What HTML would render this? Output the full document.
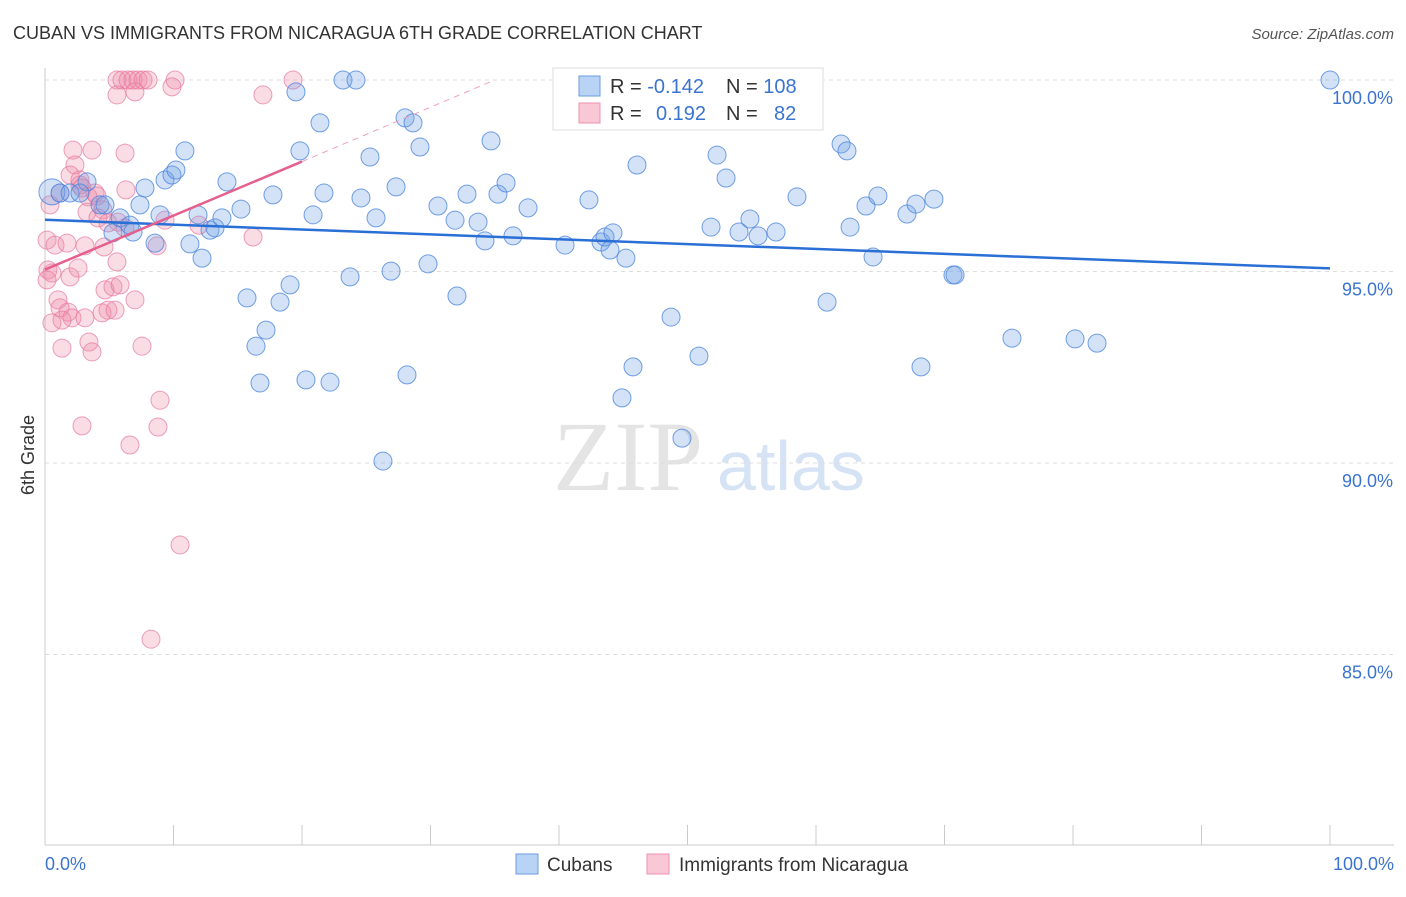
<!DOCTYPE html>
<html><head><meta charset="utf-8"><style>
body{margin:0;background:#fff;font-family:"Liberation Sans",sans-serif}
</style></head><body>
<svg id="chart" width="1406" height="892" xmlns="http://www.w3.org/2000/svg" font-family="Liberation Sans, sans-serif">
<text x="13" y="39" font-size="18" fill="#333">CUBAN VS IMMIGRANTS FROM NICARAGUA 6TH GRADE CORRELATION CHART</text>
<text x="1394" y="39" font-size="15" fill="#555" font-style="italic" text-anchor="end">Source: ZipAtlas.com</text>
<text x="553" y="490" font-size="100" font-family="Liberation Serif, serif" fill="#e4e4e4">ZIP</text>
<text x="717" y="490" font-size="70" fill="#d5e3f5">atlas</text>
<g id="grid"></g>
<line x1="45" y1="68" x2="45" y2="845" stroke="#ccc"/>
<line x1="45" y1="845" x2="1394" y2="845" stroke="#ccc"/>
<g id="ticks"></g>
<text transform="translate(34,455) rotate(-90)" font-size="18" fill="#333" text-anchor="middle">6th Grade</text>
<text x="45" y="870" font-size="18" fill="#3a74d0">0.0%</text>
<text x="1394" y="870" font-size="18" fill="#3a74d0" text-anchor="end">100.0%</text>
<g id="pts"></g>
<g id="trends"></g>
<g>
<rect x="553" y="68" width="270" height="62" fill="#fff" stroke="#ddd"/>
<rect x="579" y="76" width="21" height="20" fill="#b9d3f5" stroke="#6a9be0"/>
<rect x="579" y="103" width="21" height="20" fill="#f9c8d6" stroke="#ee91ae"/>
<text x="610" y="93" font-size="20" fill="#333">R = <tspan fill="#3a74d0">-0.142</tspan></text>
<text x="726" y="93" font-size="20" fill="#333">N = <tspan fill="#3a74d0">108</tspan></text>
<text x="610" y="120" font-size="20" fill="#333">R = <tspan fill="#3a74d0" x="656">0.192</tspan></text>
<text x="726" y="120" font-size="20" fill="#333">N = <tspan fill="#3a74d0" x="774">82</tspan></text>
</g>
<g>
<rect x="516" y="854" width="22" height="20" fill="#b9d3f5" stroke="#6a9be0"/>
<text x="547" y="871" font-size="19" fill="#333">Cubans</text>
<rect x="647" y="854" width="22" height="20" fill="#f9c8d6" stroke="#ee91ae"/>
<text x="679" y="871" font-size="19" fill="#333">Immigrants from Nicaragua</text>
</g>
</svg>
<script>
const yTicks=[100,95,90,85];
const yTickLabels=["100.0%","95.0%","90.0%","85.0%"];
const xTicks=[0,10,20,30,40,50,60,70,80,90,100];
const bluePx=[[52,192],[60,193],[70,193],[87,182],[80,193],[100,205],[105,205],[113,233],[120,218],[130,225],[133,232],[140,205],[145,188],[155,243],[160,215],[165,180],[172,175],[176,170],[185,151],[190,244],[198,215],[202,258],[210,230],[215,228],[222,218],[227,182],[241,209],[247,298],[256,346],[260,383],[266,330],[273,195],[280,302],[290,285],[296,92],[300,151],[306,380],[313,215],[320,123],[324,193],[330,382],[343,80],[350,277],[356,80],[361,198],[370,157],[376,218],[383,461],[391,271],[396,187],[405,118],[407,375],[413,123],[420,147],[428,264],[438,206],[455,220],[457,296],[467,194],[478,222],[485,241],[491,141],[498,194],[506,183],[513,236],[528,208],[565,245],[589,200],[601,242],[605,237],[610,250],[613,233],[622,398],[626,258],[633,367],[637,165],[671,317],[682,438],[699,356],[711,227],[717,155],[726,178],[739,232],[750,219],[758,236],[776,232],[797,197],[827,302],[841,144],[847,151],[850,227],[866,206],[873,257],[878,196],[907,214],[916,204],[921,367],[934,199],[953,275],[955,275],[1012,338],[1075,339],[1097,343],[1330,80]];
const pinkPx=[[117,80],[122,80],[128,80],[133,80],[138,80],[143,80],[148,80],[175,80],[293,80],[117,95],[172,87],[263,95],[73,150],[92,150],[125,153],[75,165],[70,175],[80,185],[95,193],[103,210],[126,190],[80,180],[82,188],[88,197],[50,205],[87,212],[98,218],[108,223],[118,222],[125,228],[165,220],[199,225],[253,237],[47,240],[55,245],[67,243],[85,246],[104,247],[157,246],[48,270],[52,273],[70,277],[78,268],[117,262],[47,280],[105,290],[113,287],[120,285],[135,300],[58,300],[60,308],[68,312],[72,318],[85,318],[62,320],[102,313],[108,310],[115,310],[52,323],[89,342],[62,348],[92,352],[142,346],[160,400],[82,426],[158,427],[130,445],[180,545],[151,639],[135,92],[97,196],[60,193]];
// convert to data values (x %, y %)
const blueX=bluePx.map(p=>+((p[0]-45)/12.85).toFixed(2));
const blueY=bluePx.map(p=>+(100-(p[1]-80)/38.3).toFixed(2));
const pinkX=pinkPx.map(p=>+((p[0]-45)/12.85).toFixed(2));
const pinkY=pinkPx.map(p=>+(100-(p[1]-80)/38.3).toFixed(2));
const blueTrend=[[0,96.35],[100,95.08]];
const pinkTrend=[[0,95.05],[20,97.87]];
const pinkTrendExt=[[20,97.87],[35,100]];
const sx=v=>45+v*12.85, sy=v=>80+(100-v)*38.3;
const NS="http://www.w3.org/2000/svg";
function mk(t,a,parent){const e=document.createElementNS(NS,t);for(const k in a)e.setAttribute(k,a[k]);document.getElementById(parent).appendChild(e);return e;}
yTicks.forEach((v,i)=>{
 const l=mk('line',{x1:45,x2:1394,y1:sy(v),y2:sy(v),stroke:'#ddd','stroke-dasharray':'4,4'},'grid');
 
 
 const t=mk('text',{x:1393,y:sy(v)+24,'font-size':18,fill:'#3a74d0','text-anchor':'end'},'grid');
 t.textContent=yTickLabels[i];
 
 
});
xTicks.forEach(v=>{
 const l=mk('line',{x1:sx(v),x2:sx(v),y1:825,y2:845,stroke:'#ccc'},'ticks');
 
 
});
pinkX.forEach((x,i)=>{
 const c=mk('circle',{cx:sx(x),cy:sy(pinkY[i]),r:9,fill:'rgba(240,140,170,0.3)',stroke:'rgba(230,120,160,0.7)'},'pts');
 
 
});
blueX.forEach((x,i)=>{
 const c=mk('circle',{cx:sx(x),cy:sy(blueY[i]),r:i==0?13:9,fill:'rgba(110,160,230,0.3)',stroke:'rgba(70,130,220,0.75)'},'pts');
 
 
});
const bt=mk('line',{x1:sx(blueTrend[0][0]),y1:sy(blueTrend[0][1]),x2:sx(blueTrend[1][0]),y2:sy(blueTrend[1][1]),stroke:'#2a6fd6','stroke-width':2.5},'trends');


const pt=mk('line',{x1:sx(pinkTrend[0][0]),y1:sy(pinkTrend[0][1]),x2:sx(pinkTrend[1][0]),y2:sy(pinkTrend[1][1]),stroke:'#e5608e','stroke-width':2.5},'trends');


const pe=mk('line',{x1:sx(pinkTrendExt[0][0]),y1:sy(pinkTrendExt[0][1]),x2:sx(pinkTrendExt[1][0]),y2:sy(pinkTrendExt[1][1]),stroke:'#eea0bb','stroke-width':1,'stroke-dasharray':'6,5'},'trends');


</script>
</body></html>
